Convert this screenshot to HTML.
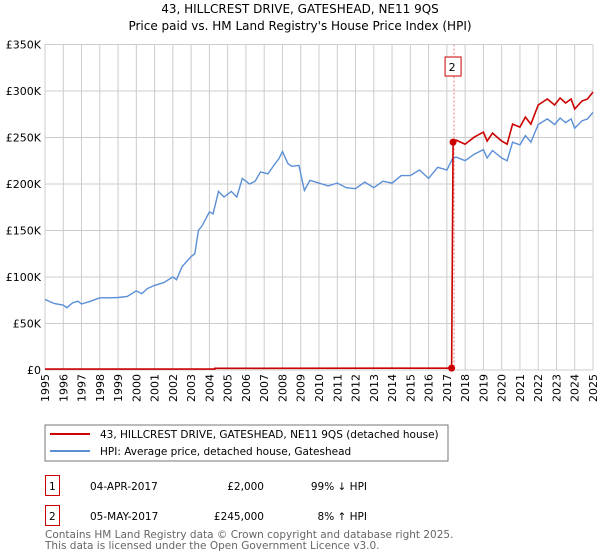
<!DOCTYPE html>
<html><head><meta charset="utf-8"><style>
body{margin:0;background:#fff;}
svg{display:block;font-family:"DejaVu Sans","Liberation Sans",sans-serif;}
</style></head><body>
<svg id="c" width="600" height="560" viewBox="0 0 600 560">
<text x="300" y="13" text-anchor="middle" font-size="12" fill="#000">43, HILLCREST DRIVE, GATESHEAD, NE11 9QS</text>
<text x="300" y="30" text-anchor="middle" font-size="12" fill="#000">Price paid vs. HM Land Registry's House Price Index (HPI)</text>
<g id="grid"></g><g id="axes"></g><g id="series"></g>
<g>
<rect x="45" y="425" width="403" height="36" fill="#fff" stroke="#777" stroke-width="1"/>
<line x1="50" y1="434" x2="90" y2="434" stroke="#cc0000" stroke-width="2"/>
<text x="100" y="438" font-size="10.5">43, HILLCREST DRIVE, GATESHEAD, NE11 9QS (detached house)</text>
<line x1="50" y1="451" x2="90" y2="451" stroke="#5b8fd6" stroke-width="2"/>
<text x="100" y="455" font-size="10.5">HPI: Average price, detached house, Gateshead</text>
</g>
<g font-size="10.5">
<rect x="45.5" y="475.5" width="14" height="20" fill="#fff" stroke="#cc0000"/><text x="49" y="490">1</text>
<text x="90" y="490">04-APR-2017</text><text x="264" y="490" text-anchor="end">£2,000</text><text x="367" y="490" text-anchor="end">99% ↓ HPI</text>
<rect x="45.5" y="505.5" width="14" height="20" fill="#fff" stroke="#cc0000"/><text x="49" y="520">2</text>
<text x="90" y="520">05-MAY-2017</text><text x="264" y="520" text-anchor="end">£245,000</text><text x="367" y="520" text-anchor="end">8% ↑ HPI</text>
</g>
<text x="45" y="538" font-size="10.5" fill="#666">Contains HM Land Registry data © Crown copyright and database right 2025.</text>
<text x="45" y="549" font-size="10.5" fill="#666">This data is licensed under the Open Government Licence v3.0.</text>
</svg>
<script>
const hpiYears=[1995,1995.5,1996,1996.2,1996.5,1996.8,1997,1997.5,1998,1998.5,1999,1999.5,2000,2000.3,2000.6,2001,2001.5,2002,2002.2,2002.5,2003,2003.2,2003.4,2003.6,2004,2004.2,2004.5,2004.8,2005.2,2005.5,2005.8,2006.2,2006.5,2006.8,2007.2,2007.6,2007.8,2008,2008.3,2008.5,2008.9,2009.2,2009.5,2010,2010.5,2011,2011.5,2012,2012.5,2013,2013.5,2014,2014.5,2015,2015.5,2016,2016.5,2017,2017.3,2017.5,2018,2018.5,2019,2019.2,2019.5,2020,2020.3,2020.6,2021,2021.3,2021.6,2022,2022.5,2022.9,2023.2,2023.5,2023.8,2024,2024.4,2024.7,2025];
const hpiValues=[75.8,71.5,69.7,67,72,74,71,74,77.6,77.6,78,79,85,82,87.5,91,94,100,97,111,122,125,150,155,170,168,192,186,192,186,206,200,203,213,211,222,227,235,222,219,220,193,204,201,198,201,196,195,202,196,203,201,209,209,215,206,218,215,227,229,225,232,237,228,236,228,225,245,242,252,245,264,270,264,271,266,270,260,268,270,277];
const sale1={year:2017.26,value:2};
const sale2={year:2017.34,value:245};
const yTicks=[0,50,100,150,200,250,300,350];
const yTickLabels=["£0","£50K","£100K","£150K","£200K","£250K","£300K","£350K"];
const xTicks=[1995,1996,1997,1998,1999,2000,2001,2002,2003,2004,2005,2006,2007,2008,2009,2010,2011,2012,2013,2014,2015,2016,2017,2018,2019,2020,2021,2022,2023,2024,2025];
const L=45,R=593,T=44.5,B=370;
const X=y=>L+(y-1995)/(2025-1995)*(R-L);
const Y=v=>B-v/350*(B-T);
const ns="http://www.w3.org/2000/svg";
function mk(tag,attrs,parent,text){const e=document.createElementNS(ns,tag);for(const k in attrs)e.setAttribute(k,attrs[k]);if(text!==undefined)e.textContent=text;parent.appendChild(e);return e;}
const grid=document.getElementById('grid'),axes=document.getElementById('axes'),ser=document.getElementById('series');
yTicks.forEach((t,i)=>{
 const l=mk('line',{x1:L,x2:R,y1:Y(t),y2:Y(t),stroke:'#ccc','stroke-width':1},grid);
 
 
 const tx=mk('text',{x:L-4,y:Y(t)+4,'text-anchor':'end','font-size':11},axes,yTickLabels[i]);
 
 
});
xTicks.forEach(t=>{
 const l=mk('line',{x1:X(t),x2:X(t),y1:T,y2:B,stroke:'#ccc','stroke-width':1},grid);
 
 
 const tx=mk('text',{transform:`translate(${X(t)+4},${B+4}) rotate(-90)`,'text-anchor':'end','font-size':11},axes,String(t));
 
 
});
const dl=mk('line',{x1:X(sale2.year)+1,x2:X(sale2.year)+1,y1:T,y2:B,stroke:'#f08080','stroke-width':1,'stroke-dasharray':'2,2'},ser);


let d=hpiYears.map((y,i)=>(i?'L':'M')+X(y).toFixed(1)+','+Y(hpiValues[i]).toFixed(1)).join('');
const hp=mk('path',{d:d,fill:'none',stroke:'#5b8fd6','stroke-width':1.4},ser);


const idx=hpiYears.findIndex(y=>y>=2017.3);
const base=hpiValues[idx];
let pd='M'+X(1995)+','+Y(1)+'L'+X(2004.3)+','+Y(1)+'L'+X(2004.3)+','+Y(1.8)+'L'+X(sale1.year)+','+Y(sale1.value)+'L'+X(sale2.year)+','+Y(sale2.value);
for(let i=idx+1;i<hpiYears.length;i++)pd+='L'+X(hpiYears[i]).toFixed(1)+','+Y(hpiValues[i]*sale2.value/base).toFixed(1);
const pp=mk('path',{d:pd,fill:'none',stroke:'#cc0000','stroke-width':1.6},ser);


[sale1,sale2].forEach((s,i)=>{
 const c=mk('circle',{cx:X(s.year),cy:Y(s.value),r:3.5,fill:'#cc0000'},ser);
 
 
});
const bx=mk('rect',{x:X(sale2.year)-8,y:57,width:16,height:19,fill:'#fff',stroke:'#cc0000'},ser);


const bt=mk('text',{x:X(sale2.year)-1,y:71,'text-anchor':'middle','font-size':11},ser,'2');


</script>
</body></html>
